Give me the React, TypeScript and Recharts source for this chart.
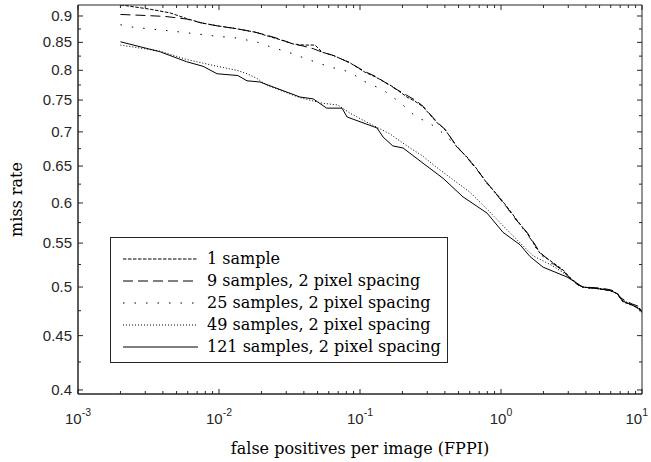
import React from "react";
import {
	LineChart,
	Line,
	XAxis,
	YAxis,
	ReferenceArea,
	Legend,
} from "recharts";

// fppi / miss rate, one pair of arrays per curve
const fppi1 = [0.002, 0.0025, 0.0033, 0.0045, 0.0059, 0.0074, 0.0097, 0.013, 0.018, 0.022, 0.027, 0.0335, 0.04, 0.048, 0.054, 0.065, 0.085, 0.108, 0.13, 0.171, 0.215, 0.25, 0.28, 0.352, 0.4, 0.488, 0.574, 0.68, 0.796, 0.95, 1.104, 1.3, 1.53, 1.89, 2.3, 2.75, 3.1, 3.46, 3.8, 5.04, 6.0, 6.65, 7.0, 7.33, 8.5, 9.68, 10];
const miss1 = [0.922, 0.918, 0.913, 0.906, 0.895, 0.887, 0.881, 0.876, 0.869, 0.862, 0.855, 0.847, 0.845, 0.845, 0.832, 0.826, 0.813, 0.797, 0.788, 0.772, 0.755, 0.747, 0.739, 0.714, 0.704, 0.677, 0.663, 0.645, 0.626, 0.61, 0.595, 0.578, 0.562, 0.538, 0.528, 0.519, 0.51, 0.504, 0.5, 0.498, 0.496, 0.493, 0.488, 0.484, 0.481, 0.477, 0.474];

const fppi9 = [0.002, 0.003, 0.0042, 0.0048, 0.0059, 0.0074, 0.0097, 0.013, 0.018, 0.022, 0.027, 0.0335, 0.04, 0.047, 0.054, 0.065, 0.085, 0.108, 0.13, 0.171, 0.2, 0.25, 0.28, 0.352, 0.4, 0.488, 0.574, 0.68, 0.796, 0.95, 1.104, 1.3, 1.53, 1.89, 2.3, 2.75, 3.1, 3.46, 3.8, 5.04, 6.0, 6.65, 7.0, 7.5, 8.5, 9.68, 10];
const miss9 = [0.903, 0.901, 0.899, 0.897, 0.894, 0.887, 0.881, 0.876, 0.869, 0.863, 0.856, 0.847, 0.843, 0.838, 0.832, 0.826, 0.813, 0.798, 0.789, 0.771, 0.762, 0.749, 0.74, 0.715, 0.704, 0.678, 0.662, 0.644, 0.627, 0.609, 0.594, 0.577, 0.563, 0.539, 0.527, 0.518, 0.509, 0.503, 0.5, 0.499, 0.497, 0.494, 0.489, 0.486, 0.482, 0.479, 0.477];

const fppi25 = [0.002, 0.0025, 0.0043, 0.0063, 0.0092, 0.0134, 0.019, 0.023, 0.0318, 0.044, 0.061, 0.085, 0.105, 0.145, 0.19, 0.25, 0.31, 0.388, 0.45, 0.52, 0.574, 0.68, 0.796, 0.95, 1.104, 1.3, 1.53, 1.89, 2.3, 2.75, 3.1, 3.46, 3.8, 5.04, 6.0, 6.65, 7.2, 8.5, 9.68, 10];
const miss25 = [0.883, 0.878, 0.872, 0.867, 0.862, 0.858, 0.85, 0.842, 0.831, 0.818, 0.806, 0.797, 0.782, 0.767, 0.747, 0.723, 0.714, 0.698, 0.685, 0.672, 0.662, 0.644, 0.626, 0.609, 0.594, 0.577, 0.561, 0.537, 0.526, 0.518, 0.509, 0.503, 0.499, 0.498, 0.496, 0.493, 0.486, 0.48, 0.476, 0.475];

const fppi49 = [0.002, 0.0038, 0.0059, 0.0097, 0.0134, 0.0158, 0.0186, 0.022, 0.0375, 0.0537, 0.0698, 0.085, 0.105, 0.163, 0.215, 0.28, 0.33, 0.45, 0.603, 0.796, 1.104, 1.69, 2.3, 2.94, 3.46, 3.8, 5.04, 6.0, 6.65, 7.33, 8.5, 9.68, 10];
const miss49 = [0.845, 0.834, 0.819, 0.807, 0.8, 0.794, 0.786, 0.774, 0.754, 0.745, 0.742, 0.729, 0.718, 0.697, 0.679, 0.664, 0.652, 0.632, 0.614, 0.592, 0.566, 0.535, 0.524, 0.513, 0.504, 0.5, 0.498, 0.496, 0.493, 0.486, 0.481, 0.477, 0.475];

const fppi121 = [0.002, 0.0038, 0.0059, 0.0077, 0.0097, 0.0136, 0.0158, 0.0195, 0.0375, 0.0465, 0.058, 0.0745, 0.081, 0.132, 0.146, 0.171, 0.202, 0.28, 0.388, 0.537, 0.796, 1.033, 1.365, 1.61, 1.99, 2.94, 3.46, 3.8, 5.04, 6.0, 6.65, 7.33, 8.5, 9.68, 10];
const miss121 = [0.851, 0.833, 0.815, 0.807, 0.794, 0.791, 0.782, 0.78, 0.755, 0.752, 0.737, 0.737, 0.723, 0.706, 0.692, 0.679, 0.676, 0.654, 0.633, 0.608, 0.587, 0.563, 0.548, 0.534, 0.522, 0.511, 0.504, 0.5, 0.498, 0.496, 0.493, 0.485, 0.481, 0.476, 0.473];

const seriesNames = [
	"1 sample",
	"9 samples, 2 pixel spacing",
	"25 samples, 2 pixel spacing",
	"49 samples, 2 pixel spacing",
	"121 samples, 2 pixel spacing",
];

const xMajor = [0.001, 0.01, 0.1, 1, 10];
const xMinor = [2, 3, 4, 5, 6, 7, 8, 9];
const yMajor = [0.4, 0.45, 0.5, 0.55, 0.6, 0.65, 0.7, 0.75, 0.8, 0.85, 0.9];
const yMinor = [0.425, 0.475, 0.525, 0.575, 0.625, 0.675, 0.725, 0.775, 0.825, 0.875];

const X_DOMAIN = [0.001, 10];
const Y_DOMAIN = [0.3965, 0.9217];

// plot box, in px
const L = 78;
const R = 642;
const T = 5;
const B = 394;

const AX = "#262626";
const SANS = "'Liberation Sans', Arial, sans-serif";
const SERIF = "'DejaVu Serif', 'Liberation Serif', serif";

const dashes = ["3.5 1.5", "10 5", "1.5 10", "1 2", undefined];

const toPoints = (xs: number[], ys: number[]) => xs.map((x, i) => ({ x, y: ys[i] }));

const series = [
	toPoints(fppi1, miss1),
	toPoints(fppi9, miss9),
	toPoints(fppi25, miss25),
	toPoints(fppi49, miss49),
	toPoints(fppi121, miss121),
];

const xTicks = [
	...xMajor,
	...xMajor.slice(0, -1).flatMap(d => xMinor.map(m => +(d * m).toPrecision(3))),
].sort((a, b) => a - b);
const yTicks = [...yMajor, ...yMinor].sort((a, b) => a - b);

const isMajor = (list: number[], v: number) => list.some(m => Math.abs(m - v) < 1e-9);

function XTick(props: any) {
	const { x, payload } = props;
	const v = payload.value;
	const major = isMajor(xMajor, v);
	const len = major ? 5 : 3;
	const last = major && v === xMajor[xMajor.length - 1];
	return (
		<g>
			<line x1={x} x2={x} y1={B} y2={B - len} stroke={AX} strokeWidth={1} />
			<line x1={x} x2={x} y1={T} y2={T + len} stroke={AX} strokeWidth={1} />
			{major && (
				<text
					x={last ? x + 6 : x}
					y={424}
					textAnchor={last ? "end" : "middle"}
					fontFamily={SANS}
					fontSize={15}
					fill={AX}
				>
					<tspan>10</tspan>
					<tspan dy={-8} fontSize={10.5}>{Math.round(Math.log10(v))}</tspan>
				</text>
			)}
		</g>
	);
}

function YTick(props: any) {
	const { y, payload } = props;
	const v = payload.value;
	const major = isMajor(yMajor, v);
	const len = major ? 5 : 3;
	return (
		<g>
			<line x1={L} x2={L + len} y1={y} y2={y} stroke={AX} strokeWidth={1} />
			<line x1={R} x2={R - len} y1={y} y2={y} stroke={AX} strokeWidth={1} />
			{major && (
				<text x={72} y={y + 5} textAnchor="end" fontFamily={SANS} fontSize={15} fill={AX}>
					{String(+v.toFixed(2))}
				</text>
			)}
		</g>
	);
}

function LegendBox() {
	return (
		<div
			style={{
				width: 338,
				height: 126,
				border: `1.5px solid ${AX}`,
				boxSizing: "border-box",
				background: "#fff",
			}}
		>
			<svg width={335} height={123} style={{ display: "block" }}>
				{seriesNames.map((name, i) => {
					const cy = 21 + i * 22;
					return (
						<g key={name}>
							<line x1={12} x2={87} y1={cy} y2={cy} stroke="#000" strokeWidth={1} strokeDasharray={dashes[i]} />
							<text x={96} y={cy + 5} fontFamily={SERIF} fontSize={16} fill="#000">
								{name}
							</text>
						</g>
					);
				})}
			</svg>
		</div>
	);
}

export default function App() {
	return (
		<div style={{ position: "absolute", left: 0, top: 0, width: 651, height: 462, background: "#fff" }}>
			<LineChart width={651} height={462} margin={{ top: T, right: 651 - R, bottom: 0, left: 0 }}>
				<XAxis
					dataKey="x"
					type="number"
					scale="log"
					domain={X_DOMAIN}
					allowDataOverflow
					ticks={xTicks}
					interval={0}
					tickLine={false}
					tickSize={0}
					tickMargin={0}
					tick={XTick}
					axisLine={{ stroke: AX }}
					height={462 - B}
					label={() => (
						<text x={(L + R) / 2} y={454} textAnchor="middle" fontFamily={SERIF} fontSize={16} fill="#000">
							false positives per image (FPPI)
						</text>
					)}
				/>
				<YAxis
					dataKey="y"
					type="number"
					scale="log"
					domain={Y_DOMAIN}
					allowDataOverflow
					ticks={yTicks}
					interval={0}
					tickLine={false}
					tickSize={0}
					tickMargin={0}
					tick={YTick}
					axisLine={{ stroke: AX }}
					width={L}
					label={() => (
						<text
							x={22}
							y={(T + B) / 2}
							textAnchor="middle"
							fontFamily={SERIF}
							fontSize={16}
							fill="#000"
							transform={`rotate(-90 22 ${(T + B) / 2})`}
						>
							miss rate
						</text>
					)}
				/>
				<ReferenceArea
					x1={X_DOMAIN[0]}
					x2={X_DOMAIN[1]}
					y1={Y_DOMAIN[0]}
					y2={Y_DOMAIN[1]}
					fill="none"
					stroke={AX}
					strokeWidth={1}
				/>
				{series.map((pts, i) => (
					<Line
						key={seriesNames[i]}
						data={pts}
						dataKey="y"
						name={seriesNames[i]}
						type="linear"
						stroke="#000"
						strokeWidth={1}
						strokeDasharray={dashes[i]}
						dot={false}
						activeDot={false}
						isAnimationActive={false}
					/>
				))}
				<Legend
					layout="vertical"
					align="center"
					verticalAlign="middle"
					content={() => <LegendBox />}
					wrapperStyle={{ position: "absolute", left: 110, top: 237, width: 338, height: 126 }}
				/>
			</LineChart>
		</div>
	);
}
